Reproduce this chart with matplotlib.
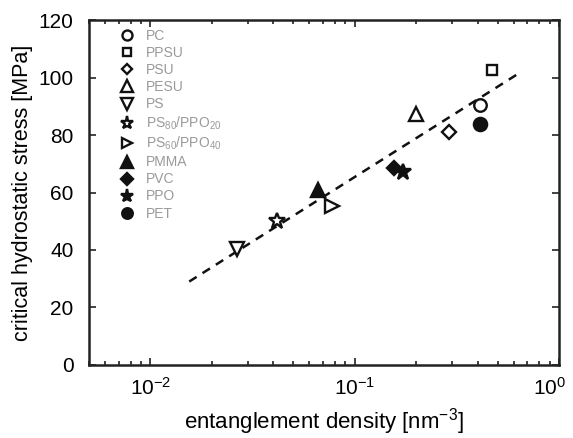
import matplotlib
matplotlib.use("Agg")
import matplotlib.pyplot as plt
from matplotlib.ticker import LogLocator, NullFormatter, MultipleLocator
from matplotlib.transforms import ScaledTranslation

plt.rcParams['font.family'] = ['Liberation Sans', 'DejaVu Sans']
plt.rcParams['mathtext.fontset'] = 'custom'
plt.rcParams['mathtext.rm'] = 'Liberation Sans'
plt.rcParams['mathtext.it'] = 'Liberation Sans'
plt.rcParams['mathtext.default'] = 'regular'

labels = ["PC", "PPSU", "PSU", "PESU", "PS", "PS$_{80}$/PPO$_{20}$",
          "PS$_{60}$/PPO$_{40}$", "PMMA", "PVC", "PPO", "PET"]
density = [0.41, 0.47, 0.29, 0.20, 0.0267, 0.0415, 0.0777, 0.066, 0.155, 0.173, 0.41]
stress = [90.5, 102.8, 81.0, 87.5, 40.3, 50.2, 55.4, 61.0, 68.5, 67.0, 84.0]
markers = ["o", "s", "D", "^", "v", "*", ">", "^", "D", "*", "o"]
filled = [False, False, False, False, False, False, False, True, True, True, True]
sizes = [9, 7, 7, 10.5, 10, 12, 9.5, 10.5, 7.5, 12, 9.5]

fit_x = [0.0155, 0.62]
fit_y = [29.0, 101.0]

xtick_vals = [0.01, 0.1, 1]
xtick_labels = ["10$^{-2}$", "10$^{-1}$", "10$^{0}$"]

fig = plt.figure(figsize=(5.73, 4.38), dpi=100)
ax = fig.add_axes([0.155, 0.167, 0.8206, 0.787])

ax.plot(fit_x, fit_y, ls=(0, (3.5, 2.8)), color='#111111', lw=1.8, zorder=1)

for lab, x, y, m, f, s in zip(labels, density, stress, markers, filled, sizes):
    ax.plot([x], [y], ls='none', marker=m, ms=s,
            mfc='#111111' if f else 'white', mec='#111111', mew=1.7,
            label=lab, zorder=3)

ax.set_xscale('log')
ax.set_xlim(0.005, 1)
ax.set_ylim(0, 120)
ax.yaxis.set_major_locator(MultipleLocator(20))
ax.set_xticks(xtick_vals, labels=xtick_labels)
ax.xaxis.set_minor_locator(LogLocator(base=10, subs=range(2, 10), numticks=10))
ax.xaxis.set_minor_formatter(NullFormatter())

ax.tick_params(which='both', direction='in', top=True, right=True,
               labelsize=15, width=1.2, color='#222222')
ax.tick_params(which='major', length=5)
ax.tick_params(which='minor', length=3)
ax.tick_params(axis='x', which='major', pad=9)
ax.tick_params(axis='y', which='major', pad=11)
for sp in ax.spines.values():
    sp.set_linewidth(1.8)
    sp.set_color('#222222')

last = ax.xaxis.get_major_ticks()[-1].label1
last.set_transform(last.get_transform() + ScaledTranslation(-7 / 72, 0, fig.dpi_scale_trans))

ax.set_xlabel("entanglement density [nm$^{-3}$]", fontsize=16, labelpad=5)
ax.set_ylabel("critical hydrostatic stress [MPa]", fontsize=15.5, labelpad=4)

leg = ax.legend(loc='upper left', bbox_to_anchor=(0.045, 1.002), frameon=False,
                fontsize=10, handlelength=1.0, handletextpad=0.9,
                labelspacing=0.22, borderaxespad=0.3, markerscale=0.8)
for t in leg.get_texts():
    t.set_color('#9a9a9a')

fig.savefig("out.png", dpi=100)
